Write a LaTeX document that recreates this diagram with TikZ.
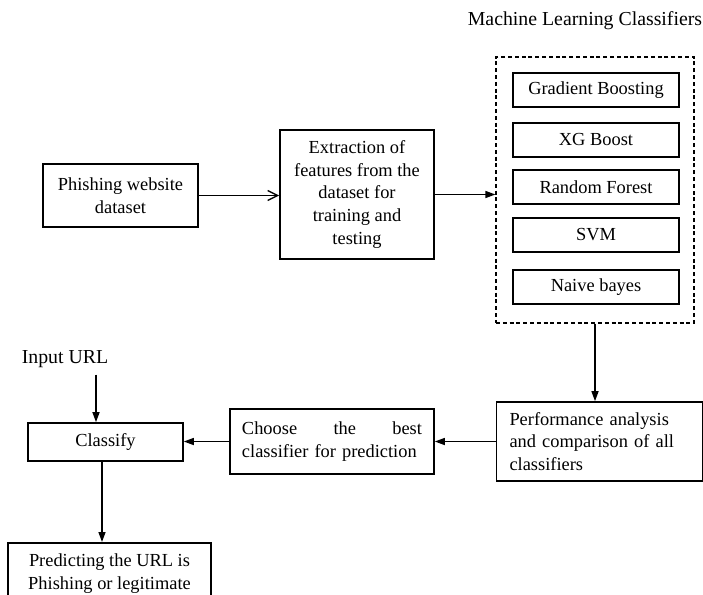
\documentclass[tikz,border=0pt]{standalone}
\usepackage{fontspec}
\setmainfont{Liberation Serif}
\usetikzlibrary{arrows.meta,positioning}

\begin{document}
\begin{tikzpicture}[
    x=0.5pt, y=-0.5pt,
    every node/.style={font=\fontsize{9.2}{11.3}\selectfont},
    procbox/.style={draw, line width=0.8pt, inner sep=0pt},
    clfbox/.style={draw, line width=1pt, minimum width=83pt, minimum height=17pt, inner sep=0pt},
    bigtext/.style={font=\fontsize{9.9}{12}\selectfont},
    arr/.style={line width=0.7pt, -{Triangle[length=5pt,width=3.5pt]}},
    openarr/.style={line width=0.7pt, -{Straight Barb[length=5pt,width=5pt]}},
]
\useasboundingbox (0,0) rectangle (703,595);
\clip (0,0) rectangle (703,595);

% Input and feature extraction
\node[procbox, minimum width=77.5pt, minimum height=31.5pt, align=center] (phish) at (120.5,195.5)
    {Phishing website\\dataset};
\node[procbox, minimum width=77pt, minimum height=64.5pt, align=center] (extract) at (357,194.5)
    {Extraction of\\features from the\\dataset for\\training and\\testing};

% Classifier group
\node[bigtext] (mltitle) at (585,21) {Machine Learning Classifiers};
\node[draw, dashed, dash pattern=on 2pt off 1.4pt, line width=0.6pt,
    minimum width=99pt, minimum height=133pt] (mlbox) at (595,190) {};
\node[clfbox] (gb) at (596,90) {Gradient Boosting};
\node[clfbox] (xgb) at (596,139.5) {XG Boost};
\node[clfbox] (rf) at (596,187) {Random Forest};
\node[clfbox] (svm) at (596,235) {SVM};
\node[clfbox] (nb) at (596,287) {Naive bayes};

% Evaluation and prediction
\node[procbox, text width=90pt, inner xsep=6.5pt, minimum height=39.5pt, align=left] (perf) at (599.5,441.5)
    {Performance analysis\\and comparison of all\\classifiers};
\node[procbox, text width=90pt, inner xsep=6pt, minimum height=32.5pt, align=left] (choose) at (332,441.5)
    {Choose\hfill the\hfill best\\classifier for prediction};
\node[procbox, minimum width=77.5pt, minimum height=19pt] (classify) at (105.5,442) {Classify};
\node[bigtext] (inurl) at (65,359) {Input URL};
\node[procbox, minimum width=101.5pt, inner ysep=5.5pt, text depth=9pt, align=center, anchor=north] (predict) at (109.5,542)
    {Predicting the URL is\\Phishing or legitimate};

% Connectors
\draw[openarr] (phish.east) -- (phish.east -| extract.west);
\draw[arr] (extract.east) -- (extract.east -| mlbox.west);
\draw[arr] (mlbox.south) -- (mlbox.south |- perf.north);
\draw[arr] (perf.west) -- (perf.west -| choose.east);
\draw[arr] (choose.west) -- (choose.west -| classify.east);
\coordinate (urlin) at ([xshift=-4.75pt]classify.north);
\draw[arr] (inurl.south -| urlin) -- (urlin);
\coordinate (clsout) at ([xshift=-1.75pt]classify.south);
\draw[arr] (clsout) -- (clsout |- predict.north);

\end{tikzpicture}
\end{document}
